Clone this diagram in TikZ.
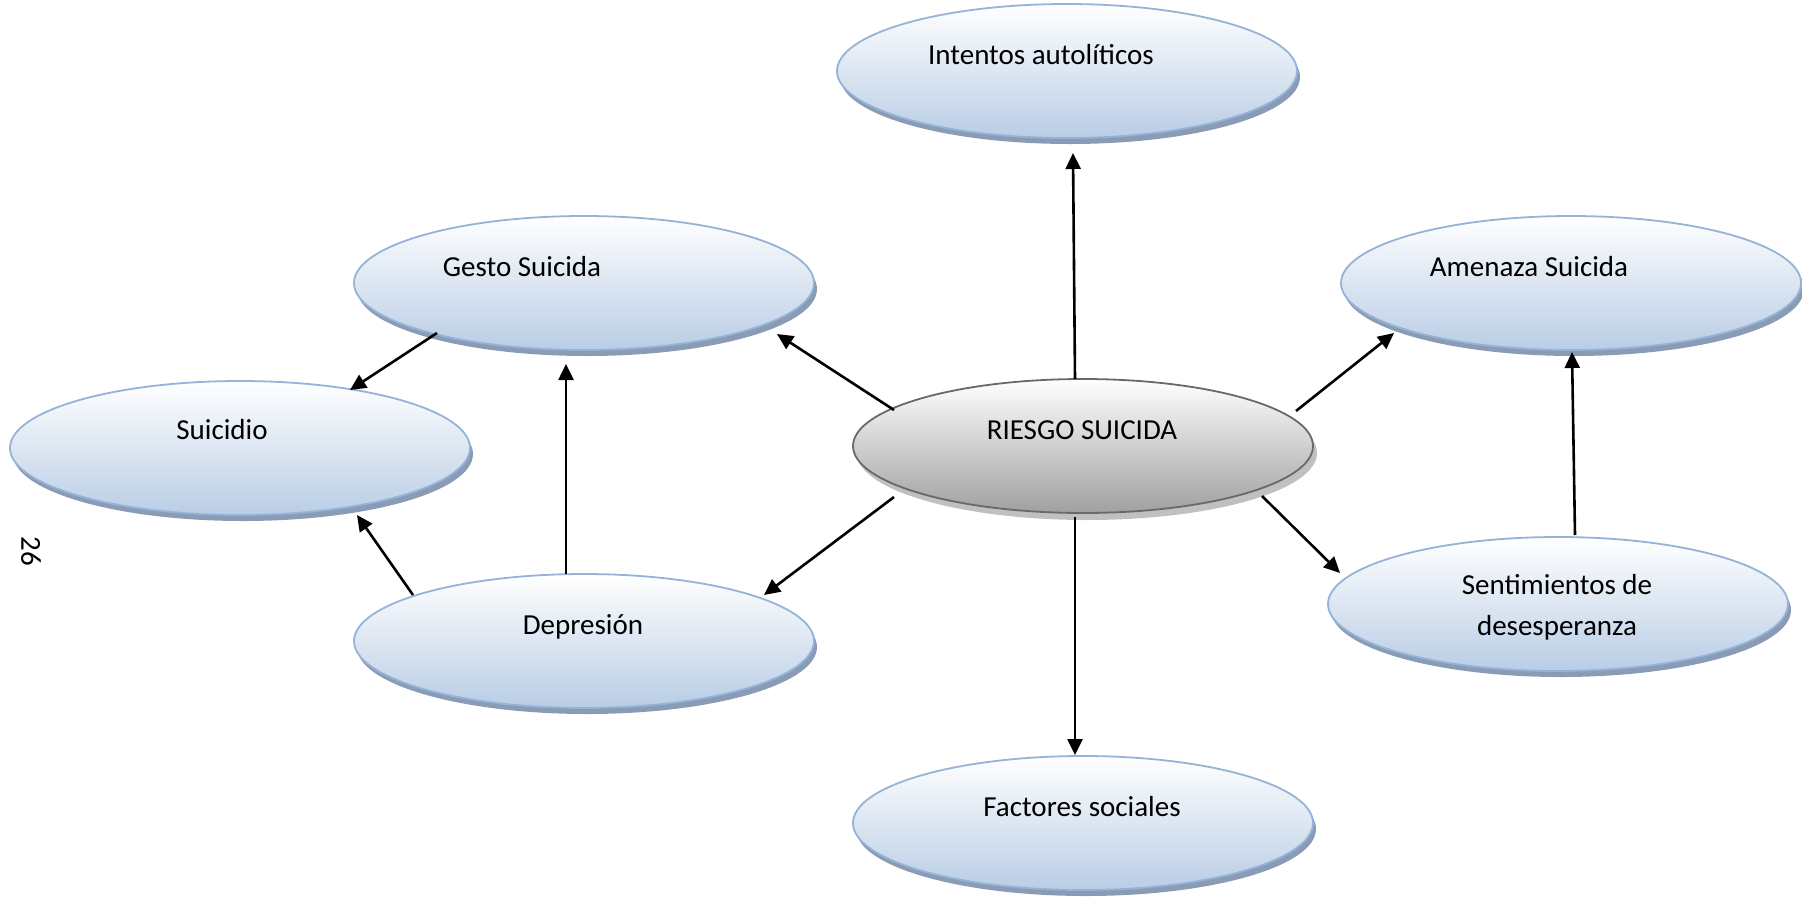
\documentclass[tikz,border=0pt]{standalone}
\usepackage{fontspec}
\setmainfont{Carlito}
\usetikzlibrary{shapes.geometric,shadows,arrows.meta}

\definecolor{ovalline}{RGB}{149,179,215}
\definecolor{ovalbot}{RGB}{185,205,229}
\definecolor{ovalshadow}{RGB}{138,155,181}
\definecolor{coreline}{RGB}{105,105,105}
\definecolor{corebot}{RGB}{160,160,160}
\definecolor{coreshadow}{RGB}{192,192,192}

\begin{document}
\begin{tikzpicture}[x=1pt,y=-1pt,
  ovalbase/.style={ellipse, minimum width=460pt, minimum height=134pt,
    inner sep=0pt, line width=1.8pt, top color=white},
  blueoval/.style={ovalbase, draw=ovalline, bottom color=ovalbot,
    drop shadow={shadow xshift=3pt, shadow yshift=-6pt, fill=ovalshadow, opacity=1}},
  greyoval/.style={ovalbase, draw=coreline, bottom color=corebot,
    drop shadow={shadow xshift=4pt, shadow yshift=-7pt, fill=coreshadow, opacity=1}},
  lbl/.style={font=\fontsize{29}{41}\selectfont, anchor=base, inner sep=0pt},
  arr/.style={line width=2.6pt, -{Triangle[length=16pt,width=15pt]}}]

\useasboundingbox (0,0) rectangle (1802,898);

% ovals
\node[blueoval] (intentos)  at (1067,71)  {};
\node[blueoval] (gesto)     at (584,283)  {};
\node[blueoval] (amenaza)   at (1571,283) {};
\node[blueoval] (suicidio)  at (240,448)  {};
\node[greyoval] (riesgo)    at (1083,446) {};
\node[blueoval] (depresion) at (584,641)  {};
\node[blueoval] (sentim)    at (1558,604) {};
\node[blueoval] (factores)  at (1083,823) {};

% labels
\node[lbl] (intentos-t)  at (1041,64)  {Intentos autolíticos};
\node[lbl] (gesto-t)     at (522,276)  {Gesto Suicida};
\node[lbl] (amenaza-t)   at (1529,276) {Amenaza Suicida};
\node[lbl] (suicidio-t)  at (222,439)  {Suicidio};
\node[lbl] (riesgo-t)    at (1082,439) {RIESGO SUICIDA};
\node[lbl] (depresion-t) at (583,634)  {Depresión};
\node[lbl, anchor=center, align=center] (sentim-t) at (1557,607) {Sentimientos de\\desesperanza};
\node[lbl] (factores-t)  at (1082,816) {Factores sociales};

% page number
\node[lbl, anchor=center, rotate=-90] (pageno) at (31,551) {26};

% connectors
\draw[arr] ([shift={(-8,-67)}]riesgo.center)   -- ([shift={(6,82)}]intentos.center);
\draw[arr] ([shift={(-189,-36)}]riesgo.center) -- ([shift={(193,51)}]gesto.center);
\draw[arr] ([shift={(-147,50)}]gesto.center)   -- ([shift={(110,-58)}]suicidio.center);
\draw[arr] ([shift={(-18,-67)}]depresion.center) -- ([shift={(-18,81)}]gesto.center);
\draw[arr] ([shift={(-171,-46)}]depresion.center) -- ([shift={(117,67)}]suicidio.center);
\draw[arr] ([shift={(-189,51)}]riesgo.center)  -- ([shift={(180,-46)}]depresion.center);
\draw[arr] ([shift={(213,-35)}]riesgo.center)  -- ([shift={(-177,50)}]amenaza.center);
\draw[arr] ([shift={(17,-69)}]sentim.center)   -- ([shift={(1,69)}]amenaza.center);
\draw[arr] ([shift={(179,50)}]riesgo.center)   -- ([shift={(-218,-31)}]sentim.center);
\draw[arr] ([shift={(-8,71)}]riesgo.center)    -- ([shift={(-8,-68)}]factores.center);

\end{tikzpicture}
\end{document}
